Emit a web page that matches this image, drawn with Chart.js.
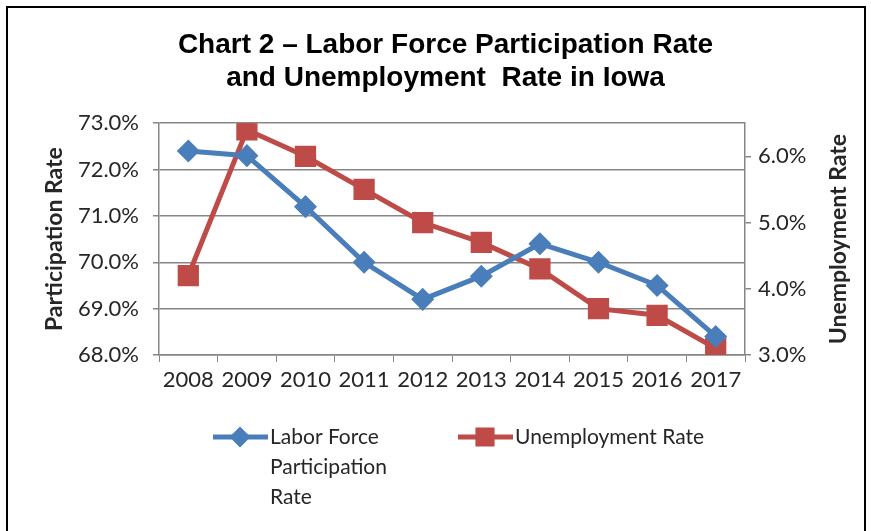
<!DOCTYPE html>
<html>
<head>
<meta charset="utf-8">
<script src="https://cdn.jsdelivr.net/npm/chart.js@4.4.1/dist/chart.umd.min.js"></script>
<style>
  html, body { margin: 0; padding: 0; background: #fff; }
  #wrap { position: relative; width: 871px; height: 531px; }
</style>
</head>
<body>
<div id="wrap"><canvas id="myChart" width="871" height="531"></canvas></div>
<script>
const years = ['2008', '2009', '2010', '2011', '2012', '2013', '2014', '2015', '2016', '2017'];
const participation = [72.4, 72.3, 71.2, 70.0, 69.2, 69.7, 70.4, 70.0, 69.5, 68.4];
const unemployment = [4.2, 6.4, 6.0, 5.5, 5.0, 4.7, 4.3, 3.7, 3.6, 3.1];
const leftTicks = [68, 69, 70, 71, 72, 73];
const rightTicks = [3, 4, 5, 6];

const blue = '#4a7ebb';
const red = '#be4b48';
const gray = '#868686';
const textColor = '#262626';
const tickFont = { family: 'Lato, "Open Sans", sans-serif', size: 22 };

// frame, axis titles and the wrapped legend
const extras = {
  id: 'extras',
  afterDraw(chart) {
    const ctx = chart.ctx;
    const area = chart.chartArea;
    ctx.save();
    ctx.strokeStyle = '#000';
    ctx.lineWidth = 2;
    ctx.strokeRect(7, 7, 858, 600);

    ctx.fillStyle = textColor;
    ctx.font = 'bold 23px Lato, "Open Sans", sans-serif';
    ctx.textAlign = 'center';
    ctx.textBaseline = 'middle';
    const midY = (area.top + area.bottom) / 2;
    [['Participation Rate', 55], ['Unemployment Rate', 839]].forEach(([t, x]) => {
      ctx.save();
      ctx.translate(x, midY);
      ctx.rotate(-Math.PI / 2);
      ctx.fillText(t, 0, 0);
      ctx.restore();
    });

    const items = [
      { ds: chart.data.datasets[0], x: 213, lines: ['Labor Force', 'Participation', 'Rate'] },
      { ds: chart.data.datasets[1], x: 458, lines: ['Unemployment Rate'] }
    ];
    const y0 = area.bottom + 82;
    ctx.font = '21px Lato, "Open Sans", sans-serif';
    ctx.textAlign = 'left';
    items.forEach(it => {
      ctx.strokeStyle = it.ds.borderColor;
      ctx.lineWidth = 5;
      ctx.beginPath();
      ctx.moveTo(it.x, y0);
      ctx.lineTo(it.x + 55, y0);
      ctx.stroke();
      ctx.fillStyle = it.ds.pointBackgroundColor;
      ctx.strokeStyle = it.ds.pointBorderColor;
      Chart.helpers.drawPoint(ctx, {
        pointStyle: it.ds.pointStyle,
        radius: it.ds.pointStyle === 'rect' ? 10 : 7,
        rotation: 0,
        borderWidth: 1
      }, it.x + 27, y0);
      ctx.fillStyle = textColor;
      it.lines.forEach((l, i) => ctx.fillText(l, it.x + 57, y0 + i * 30));
    });
    ctx.restore();
  }
};

const ctx = document.getElementById('myChart').getContext('2d');

const myChart = new Chart(ctx, {
  type: 'line',
  data: {
    labels: years,
    datasets: [{
      label: 'Labor Force Participation Rate',
      data: participation,
      yAxisID: 'y',
      borderColor: blue,
      backgroundColor: blue,
      pointBackgroundColor: blue,
      pointBorderColor: blue,
      borderWidth: 5,
      pointStyle: 'rectRot',
      pointRadius: 8,
      tension: 0
    }, {
      label: 'Unemployment Rate',
      data: unemployment,
      yAxisID: 'y1',
      borderColor: red,
      backgroundColor: red,
      pointBackgroundColor: red,
      pointBorderColor: red,
      borderWidth: 5,
      pointStyle: 'rect',
      pointRadius: 11.5,
      tension: 0
    }]
  },
  options: {
    responsive: false,
    animation: false,
    layout: { padding: { left: 20, right: 0, top: 28, bottom: 136 } },
    plugins: {
      legend: { display: false },
      tooltip: { enabled: false },
      title: {
        display: true,
        text: ['Chart 2 \u2013 Labor Force Participation Rate', 'and Unemployment  Rate in Iowa'],
        color: '#000',
        font: { family: '"Liberation Sans", Arial, sans-serif', size: 28, weight: 'bold', lineHeight: 1.2 },
        padding: { top: 0, bottom: 28 }
      }
    },
    scales: {
      x: {
        offset: true,
        grid: { offset: true, drawOnChartArea: false, color: gray, tickLength: 7 },
        border: { color: gray, width: 1.5 },
        ticks: { color: textColor, font: tickFont, padding: 5, maxRotation: 0 },
        afterFit(scale) { scale.height = 40; }
      },
      y: {
        position: 'left',
        min: 68,
        max: 73,
        afterBuildTicks(axis) { axis.ticks = leftTicks.map(v => ({ value: v })); },
        grid: { color: gray, lineWidth: 1.5, tickLength: 6 },
        border: { color: gray, width: 1.5 },
        ticks: { color: textColor, font: tickFont, padding: 14, callback: v => v.toFixed(1) + '%' },
        afterFit(scale) { scale.width = 139; }
      },
      y1: {
        position: 'right',
        min: 3,
        max: 6.5,
        afterBuildTicks(axis) { axis.ticks = rightTicks.map(v => ({ value: v })); },
        grid: { drawOnChartArea: false, color: gray, lineWidth: 1.5, tickLength: 6 },
        border: { color: gray, width: 1.5 },
        ticks: { color: textColor, font: tickFont, padding: 7, callback: v => v.toFixed(1) + '%' },
        afterFit(scale) { scale.width = 126; }
      }
    }
  },
  plugins: [extras]
});
</script>
</body>
</html>
